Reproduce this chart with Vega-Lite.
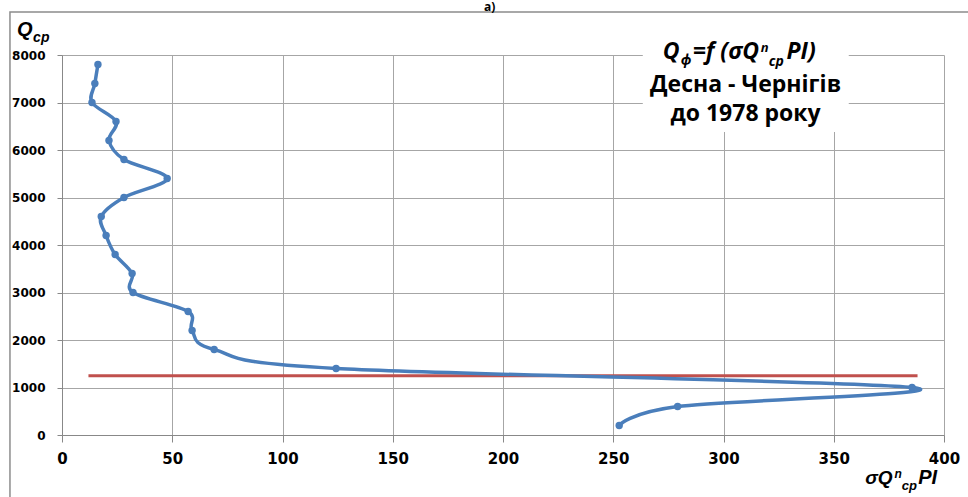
{
  "$schema": "https://vega.github.io/schema/vega-lite/v6.json",
  "autosize": "none",
  "width": 882,
  "height": 380,
  "padding": {"left": 62, "top": 55, "right": 24, "bottom": 62},
  "background": "white",
  "config": {"view": {"stroke": null}},
  "data": {"values": [{}]},
  "datasets": {
    "curve": [
      {"s": 252.7, "q": 200},
      {"s": 279.2, "q": 600},
      {"s": 385.5, "q": 1000},
      {"s": 124.3, "q": 1400},
      {"s": 69.0, "q": 1800},
      {"s": 59.0, "q": 2200},
      {"s": 57.2, "q": 2600},
      {"s": 32.2, "q": 3000},
      {"s": 31.8, "q": 3400},
      {"s": 24.1, "q": 3800},
      {"s": 20.0, "q": 4200},
      {"s": 17.8, "q": 4600},
      {"s": 28.1, "q": 5000},
      {"s": 47.7, "q": 5400},
      {"s": 28.1, "q": 5800},
      {"s": 21.3, "q": 6200},
      {"s": 24.5, "q": 6600},
      {"s": 13.6, "q": 7000},
      {"s": 14.9, "q": 7400},
      {"s": 16.3, "q": 7800}
    ],
    "ref": [
      {"s": 12, "q": 1250},
      {"s": 388, "q": 1250}
    ]
  },
  "layer": [
    {
      "data": {"name": "ref"},
      "mark": {"type": "line", "color": "#c0504d", "strokeWidth": 3},
      "encoding": {
        "x": {"field": "s", "type": "quantitative", "scale": {"domain": [0, 400], "nice": false, "zero": false},
          "axis": {"title": null, "values": [0, 50, 100, 150, 200, 250, 300, 350, 400], "format": "d", "grid": true, "gridColor": "#a6a6a6", "gridWidth": 1,
            "domainColor": "#888888", "domainWidth": 1, "tickColor": "#888888", "tickSize": 7, "labelFont": "DejaVu Sans", "labelFontSize": 15,
            "labelFontWeight": "bold", "labelColor": "#000000", "labelPadding": 9, "labelOverlap": false, "labelFlush": false, "labelBound": false}},
        "y": {"field": "q", "type": "quantitative", "scale": {"domain": [0, 8000], "nice": false},
          "axis": {"title": null, "values": [0, 1000, 2000, 3000, 4000, 5000, 6000, 7000, 8000], "format": "d", "grid": true, "gridColor": "#a6a6a6", "gridWidth": 1,
            "domainColor": "#888888", "domainWidth": 1, "tickColor": "#888888", "tickSize": 5, "labelFont": "DejaVu Sans", "labelFontSize": 12,
            "labelFontWeight": "bold", "labelColor": "#000000", "labelPadding": 12, "labelOverlap": false, "labelFlush": false, "labelBound": false}}
      }
    },
    {
      "data": {"name": "curve"},
      "mark": {"type": "line", "interpolate": "cardinal", "color": "#4a7ebb", "strokeWidth": 3.5,
        "point": {"filled": true, "size": 55, "color": "#4a7ebb"}},
      "encoding": {
        "x": {"field": "s", "type": "quantitative"},
        "y": {"field": "q", "type": "quantitative"},
        "order": {"field": "q", "type": "quantitative"}
      }
    },
    {
      "mark": {"type": "rect", "fill": "white", "stroke": null},
      "encoding": {"x": {"datum": 263.4}, "x2": {"datum": 356.8}, "y": {"datum": 6379}, "y2": {"datum": 8600}}
    },
    {
      "mark": {"type": "rect", "fill": null, "stroke": "#8c8c8c", "strokeWidth": 1.5},
      "encoding": {"x": {"datum": -23.6}, "x2": {"datum": 600}, "y": {"datum": 8905}, "y2": {"datum": -3000}}
    },
    {
      "mark": {"type": "text", "align": "center", "baseline": "alphabetic", "font": "Open Sans", "fontWeight": "bold", "fontSize": 12, "color": "#000"},
      "encoding": {"x": {"datum": 194}, "y": {"datum": 8926}, "text": {"value": "а)"}}
    },
    {
      "mark": {"type": "text", "align": "left", "baseline": "alphabetic", "font": "Liberation Sans", "fontWeight": "bold", "fontStyle": "italic", "fontSize": 20, "color": "#000"},
      "encoding": {"x": {"datum": -20.4}, "y": {"datum": 8400}, "text": {"value": "Q"}}
    },
    {
      "mark": {"type": "text", "align": "left", "baseline": "alphabetic", "font": "Liberation Sans", "fontWeight": "bold", "fontStyle": "italic", "fontSize": 14, "color": "#000"},
      "encoding": {"x": {"datum": -13.1}, "y": {"datum": 8274}, "text": {"value": "ср"}}
    },
    {
      "mark": {"type": "text", "align": "right", "baseline": "alphabetic", "font": "Liberation Sans", "fontWeight": "bold", "fontStyle": "italic", "fontSize": 19, "color": "#000"},
      "encoding": {"x": {"datum": 376.7}, "y": {"datum": -1032}, "text": {"value": "σQ"}}
    },
    {
      "mark": {"type": "text", "align": "left", "baseline": "alphabetic", "font": "Liberation Sans", "fontWeight": "bold", "fontStyle": "italic", "fontSize": 12, "color": "#000"},
      "encoding": {"x": {"datum": 377.6}, "y": {"datum": -905}, "text": {"value": "n"}}
    },
    {
      "mark": {"type": "text", "align": "left", "baseline": "alphabetic", "font": "Liberation Sans", "fontWeight": "bold", "fontStyle": "italic", "fontSize": 13, "color": "#000"},
      "encoding": {"x": {"datum": 380.8}, "y": {"datum": -1160}, "text": {"value": "ср"}}
    },
    {
      "mark": {"type": "text", "align": "left", "baseline": "alphabetic", "font": "Liberation Sans", "fontWeight": "bold", "fontStyle": "italic", "fontSize": 20, "color": "#000"},
      "encoding": {"x": {"datum": 388.3}, "y": {"datum": -1032}, "text": {"value": "PI"}}
    },
    {
      "mark": {"type": "text", "align": "left", "baseline": "alphabetic", "font": "Open Sans", "fontWeight": "bold", "fontStyle": "italic", "fontSize": 23, "color": "#000"},
      "encoding": {"x": {"datum": 272.4}, "y": {"datum": 7916}, "text": {"value": "Q"}}
    },
    {
      "mark": {"type": "text", "align": "left", "baseline": "alphabetic", "font": "Open Sans", "fontWeight": "bold", "fontStyle": "italic", "fontSize": 14, "color": "#000"},
      "encoding": {"x": {"datum": 280.6}, "y": {"datum": 7789}, "text": {"value": "ф"}}
    },
    {
      "mark": {"type": "text", "align": "left", "baseline": "alphabetic", "font": "Open Sans", "fontWeight": "bold", "fontStyle": "italic", "fontSize": 23, "color": "#000"},
      "encoding": {"x": {"datum": 286.0}, "y": {"datum": 7916}, "text": {"value": "=f (σQ"}}
    },
    {
      "mark": {"type": "text", "align": "left", "baseline": "alphabetic", "font": "Open Sans", "fontWeight": "bold", "fontStyle": "italic", "fontSize": 13, "color": "#000"},
      "encoding": {"x": {"datum": 316.9}, "y": {"datum": 8063}, "text": {"value": "n"}}
    },
    {
      "mark": {"type": "text", "align": "left", "baseline": "alphabetic", "font": "Open Sans", "fontWeight": "bold", "fontStyle": "italic", "fontSize": 14, "color": "#000"},
      "encoding": {"x": {"datum": 320.5}, "y": {"datum": 7768}, "text": {"value": "ср"}}
    },
    {
      "mark": {"type": "text", "align": "left", "baseline": "alphabetic", "font": "Open Sans", "fontWeight": "bold", "fontStyle": "italic", "fontSize": 23, "color": "#000"},
      "encoding": {"x": {"datum": 328.6}, "y": {"datum": 7916}, "text": {"value": "PI)"}}
    },
    {
      "mark": {"type": "text", "align": "center", "baseline": "alphabetic", "font": "Open Sans", "fontWeight": "bold", "fontSize": 23, "color": "#000"},
      "encoding": {"x": {"datum": 310}, "y": {"datum": 7221}, "text": {"value": "Десна - Чернігів"}}
    },
    {
      "mark": {"type": "text", "align": "center", "baseline": "alphabetic", "font": "Open Sans", "fontWeight": "bold", "fontSize": 23, "color": "#000"},
      "encoding": {"x": {"datum": 310}, "y": {"datum": 6611}, "text": {"value": "до 1978 року"}}
    }
  ]
}
